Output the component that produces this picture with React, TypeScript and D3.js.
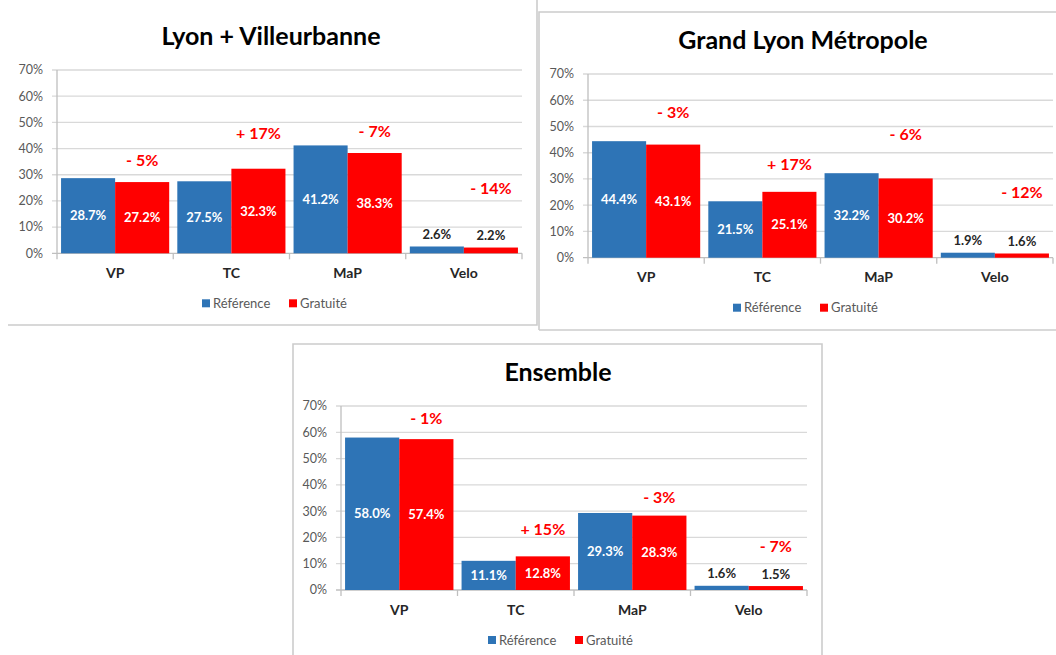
import React from "react";
import * as d3 from "d3";

// ---------- DATA ----------
const categories = ["VP", "TC", "MaP", "Velo"];
const seriesNames = ["Référence", "Gratuité"];
const yTicks = [0, 10, 20, 30, 40, 50, 60, 70];

const titleLyonVilleurbanne = "Lyon + Villeurbanne";
const refLyonVilleurbanne = [28.7, 27.5, 41.2, 2.6];
const gratLyonVilleurbanne = [27.2, 32.3, 38.3, 2.2];
const changeLyonVilleurbanne = ["- 5%", "+ 17%", "- 7%", "- 14%"];
const changeLevelLyonVilleurbanne = [35.6, 45.9, 46.7, 24.9];

const titleGrandLyon = "Grand Lyon Métropole";
const refGrandLyon = [44.4, 21.5, 32.2, 1.9];
const gratGrandLyon = [43.1, 25.1, 30.2, 1.6];
const changeGrandLyon = ["- 3%", "+ 17%", "- 6%", "- 12%"];
const changeLevelGrandLyon = [55.5, 35.4, 46.8, 24.7];

const titleEnsemble = "Ensemble";
const refEnsemble = [58.0, 11.1, 29.3, 1.6];
const gratEnsemble = [57.4, 12.8, 28.3, 1.5];
const changeEnsemble = ["- 1%", "+ 15%", "- 3%", "- 7%"];
const changeLevelEnsemble = [65.4, 23.2, 35.4, 16.7];

// ---------- STYLE / LAYOUT ----------
const BLUE = "#2E74B6";
const RED = "#FF0000";
const GRID = "#d9d9d9";
const AXIS = "#bfbfbf";
const FONT = "Lato, 'Open Sans', sans-serif";

type PanelLayout = { x0: number; x1: number; y0: number; y1: number; titleX: number; legendX: number };

const layouts: PanelLayout[] = [
  { x0: 57, x1: 522, y0: 253.3, y1: 70, titleX: 271, legendX: 202 },
  { x0: 588, x1: 1053, y0: 257.7, y1: 74, titleX: 803, legendX: 733 },
  { x0: 341, x1: 807, y0: 590, y1: 406, titleX: 558, legendX: 488 },
];

function Panel({ layout, title, refVals, gratVals, changes, levels }: {
  layout: PanelLayout; title: string; refVals: number[]; gratVals: number[]; changes: string[]; levels: number[];
}) {
  const { x0, x1, y0, y1, titleX, legendX } = layout;
  const x = d3.scaleBand<string>().domain(categories).range([x0, x1]).paddingInner(0).paddingOuter(0);
  const inner = d3.scaleBand<string>().domain(seriesNames).range([0, x.bandwidth()]).paddingOuter(0.075).paddingInner(0);
  const y = d3.scaleLinear().domain([0, 70]).range([y0, y1]);
  const series = [refVals, gratVals];
  const colors = [BLUE, RED];
  const bounds = [...categories.map((c) => x(c)!), x1];

  return (
    <g>
      {/* gridlines */}
      {yTicks.map((t) => (
        <g key={t}>
          <line x1={x0 - 5} x2={x1} y1={y(t)} y2={y(t)} stroke={t === 0 ? AXIS : GRID} strokeWidth={1.3} />
          <text x={x0 - 14} y={y(t)} dy="0.35em" textAnchor="end" fontFamily={FONT} fontSize={12.5} fill="#595959">
            {t}%
          </text>
        </g>
      ))}
      <line x1={x0} x2={x0} y1={y1} y2={y0} stroke={AXIS} strokeWidth={1.3} />
      {bounds.map((b, i) => (
        <line key={i} x1={b} x2={b} y1={y0} y2={y0 + 6} stroke={AXIS} strokeWidth={1.3} />
      ))}
      {/* bars */}
      {categories.map((c, ci) => (
        <g key={c}>
          {series.map((vals, si) => {
            const bx = x(c)! + inner(seriesNames[si])!;
            const bw = inner.bandwidth();
            const v = vals[ci];
            const small = v < 5;
            return (
              <g key={si}>
                <rect x={bx} y={y(v)} width={bw} height={y0 - y(v)} fill={colors[si]} />
                <text
                  x={bx + bw / 2}
                  y={small ? y(v) - 12 : (y(v) + y0) / 2}
                  dy="0.35em"
                  textAnchor="middle"
                  fontFamily={FONT}
                  fontWeight={700}
                  fontSize={13}
                  fill={small ? "#262626" : "#ffffff"}
                >
                  {v.toFixed(1)}%
                </text>
              </g>
            );
          })}
          <text
            x={x(c)! + inner(seriesNames[1])! + inner.bandwidth() / 2}
            y={y(levels[ci])}
            dy="0.35em"
            textAnchor="middle"
            fontFamily={FONT}
            fontWeight={700}
            fontSize={16}
            fill={RED}
          >
            {changes[ci]}
          </text>
          <text
            x={x(c)! + x.bandwidth() / 2}
            y={y0 + 24.5}
            textAnchor="middle"
            fontFamily={FONT}
            fontWeight={700}
            fontSize={14}
            fill="#262626"
          >
            {c}
          </text>
        </g>
      ))}
      {/* title */}
      <text x={titleX} y={y1 - 25} textAnchor="middle" fontFamily={FONT} fontWeight={700} fontSize={25} fill="#000">
        {title}
      </text>
      {/* legend */}
      {seriesNames.map((s, i) => (
        <g key={s} transform={`translate(${legendX + i * 87},${y0 + 50})`}>
          <rect x={0} y={-4} width={8} height={8} fill={colors[i]} />
          <text x={11} y={0} dy="0.35em" fontFamily={FONT} fontSize={13} fill="#595959">
            {s}
          </text>
        </g>
      ))}
    </g>
  );
}

export default function App() {
  return (
    <svg width={1056} height={655} style={{ position: "absolute", left: 0, top: 0, background: "#fff" }}>
      <rect x={0} y={0} width={1056} height={655} fill="#fff" />
      {/* panel borders */}
      <polyline points="8,325 537,325 537,0" fill="none" stroke="#cccccc" strokeWidth={1.6} />
      <polyline points="539,330 539,12 1060,12" fill="none" stroke="#cccccc" strokeWidth={1.6} />
      <line x1={539} x2={1060} y1={330} y2={330} stroke="#cccccc" strokeWidth={1.6} />
      <polyline points="293,660 293,344 822,344 822,660" fill="none" stroke="#cccccc" strokeWidth={1.6} />
      <Panel layout={layouts[0]} title={titleLyonVilleurbanne} refVals={refLyonVilleurbanne} gratVals={gratLyonVilleurbanne} changes={changeLyonVilleurbanne} levels={changeLevelLyonVilleurbanne} />
      <Panel layout={layouts[1]} title={titleGrandLyon} refVals={refGrandLyon} gratVals={gratGrandLyon} changes={changeGrandLyon} levels={changeLevelGrandLyon} />
      <Panel layout={layouts[2]} title={titleEnsemble} refVals={refEnsemble} gratVals={gratEnsemble} changes={changeEnsemble} levels={changeLevelEnsemble} />
    </svg>
  );
}
